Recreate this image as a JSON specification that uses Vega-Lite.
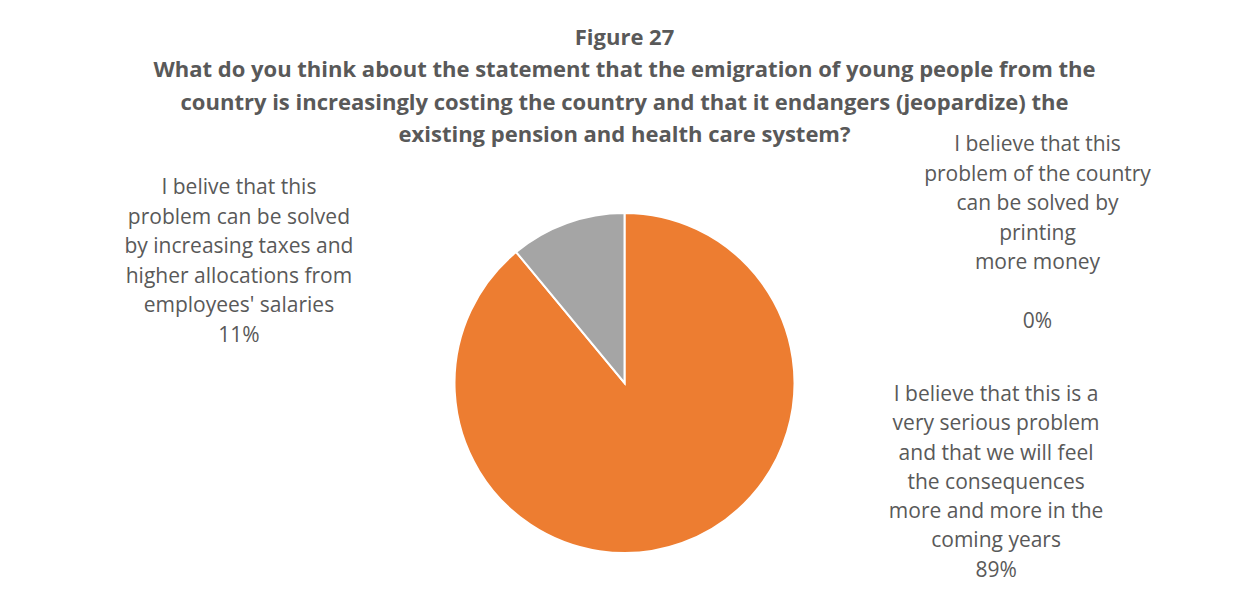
{
  "$schema": "https://vega.github.io/schema/vega-lite/v6.json",
  "autosize": "none",
  "width": 1249,
  "height": 464,
  "padding": {"top": 151, "left": 0, "right": 0, "bottom": 0},
  "background": "white",
  "config": {"view": {"stroke": null}},
  "title": {
    "text": [
      "Figure 27",
      "What do you think about the statement that the emigration of young people from the",
      "country is increasingly costing the country and that it endangers (jeopardize) the",
      "existing pension and health care system?"
    ],
    "anchor": "middle",
    "frame": "group",
    "font": "Open Sans",
    "fontSize": 22,
    "fontWeight": "bold",
    "color": "#595959",
    "lineHeight": 32.3,
    "offset": -93
  },
  "data": {
    "values": [
      {"n": 1, "answer": "Printing more money", "pct": 0, "label": "I believe that this\nproblem of the country\ncan be solved by\nprinting\nmore money"},
      {"n": 2, "answer": "Very serious problem", "pct": 0.89, "label": "I believe that this is a\nvery serious problem\nand that we will feel\nthe consequences\nmore and more in the\ncoming years\n89%"},
      {"n": 3, "answer": "Increasing taxes", "pct": 0.11, "label": "I belive that this\nproblem can be solved\nby increasing taxes and\nhigher allocations from\nemployees' salaries\n11%"}
    ]
  },
  "encoding": {
    "theta": {"field": "pct", "type": "quantitative", "stack": true},
    "order": {"field": "n", "type": "ordinal"}
  },
  "layer": [
    {
      "mark": {"type": "arc", "radius": 170, "stroke": "white", "strokeWidth": 2},
      "encoding": {
        "color": {
          "field": "answer",
          "type": "nominal",
          "scale": {"domain": ["Printing more money", "Very serious problem", "Increasing taxes"], "range": ["#4472C4", "#ED7D31", "#A5A5A5"]},
          "legend": null
        }
      }
    },
    {
      "mark": {"type": "text", "radius": 170, "dx": 413, "dy": -79, "font": "Open Sans", "fontSize": 21, "lineHeight": 29.5, "color": "#595959", "align": "center", "baseline": "top", "lineBreak": "\n"},
      "encoding": {
        "text": {"condition": {"test": "datum.n == 1", "field": "label"}, "value": ""}
      }
    },
    {
      "mark": {"type": "text", "radius": 170, "dx": 413, "dy": 98, "font": "Open Sans", "fontSize": 21, "color": "#595959", "align": "center", "baseline": "top"},
      "encoding": {
        "text": {"condition": {"test": "datum.n == 1", "field": "pct", "type": "quantitative", "format": ".0%"}, "value": ""}
      }
    },
    {
      "mark": {"type": "text", "radius": 170, "dx": 314, "dy": -159, "font": "Open Sans", "fontSize": 21, "lineHeight": 29.3, "color": "#595959", "align": "center", "baseline": "top", "lineBreak": "\n"},
      "encoding": {
        "text": {"condition": {"test": "datum.n == 2", "field": "label"}, "value": ""}
      }
    },
    {
      "mark": {"type": "text", "radius": 170, "dx": -328, "dy": -46, "font": "Open Sans", "fontSize": 21, "lineHeight": 29.6, "color": "#595959", "align": "center", "baseline": "top", "lineBreak": "\n"},
      "encoding": {
        "text": {"condition": {"test": "datum.n == 3", "field": "label"}, "value": ""}
      }
    }
  ]
}
